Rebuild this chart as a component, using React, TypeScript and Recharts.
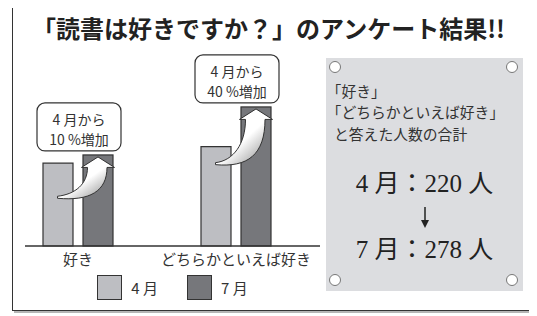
import React from 'react';
import { BarChart, Bar, XAxis, YAxis, Legend } from 'recharts';

// ---- data ----
const categories = ['好き', 'どちらかといえば好き'];
const seriesNames = ['4 月', '7 月'];
const aprilValues = [100, 120];
const julyValues = [110, 168];
const titleText = '「読書は好きですか？」のアンケート結果!!';
const panelLines = ['「好き」', '「どちらかといえば好き」', 'と答えた人数の合計'];
const unitLabel = '人';

const data = categories.map((name, i) => ({
  idx: i,
  name,
  apr: aprilValues[i],
  jul: julyValues[i],
}));
const aprTotal = aprilValues.reduce((a, b) => a + b, 0);
const julTotal = julyValues.reduce((a, b) => a + b, 0);

// ---- styles ----
const APR_FILL = '#bdbec2';
const JUL_FILL = '#76777b';
const STROKE = '#333';
const JP = "'Noto Sans CJK JP', 'Noto Sans', sans-serif";
const SERIF_JP = "'Liberation Serif', 'Noto Sans CJK JP', serif";

const JulShape = (props: any) => {
  const { x, y, width, height, payload, index } = props;
  const cx = x + width / 2;
  const pct = Math.round((payload.jul / payload.apr - 1) * 100);
  const tipY = y + 2;
  const hb = y + 12.5;
  const hh = 16.5;
  const sL = x + 4.5;
  const sR = x + 24;
  const tx = x - 25.5;
  const ty = y + 0.3 * height + 15;
  const dy = ty - hb;
  const d = `M ${cx} ${tipY} L ${cx + hh} ${hb} L ${sR} ${hb} C ${sR} ${hb + dy * 0.8} ${sR - 0.35 * (sR - tx)} ${ty + 4} ${tx} ${ty + 1} L ${tx} ${ty - 1} C ${tx + 0.6 * (sL - tx)} ${ty - 3} ${sL} ${hb + dy * 0.55} ${sL} ${hb} L ${cx - hh} ${hb} Z`;
  const boxW = 84;
  const boxH = 48;
  const bx = cx - 19 - boxW / 2;
  const by = y - 4 - boxH;
  const gid = `arrowGrad${index}`;
  return (
    <g>
      <defs>
        <linearGradient id={gid} x1="0.2" y1="0.2" x2="0.9" y2="0.95">
          <stop offset="0" stopColor="#ffffff" />
          <stop offset="0.45" stopColor="#ffffff" />
          <stop offset="1" stopColor="#8f8f8f" />
        </linearGradient>
      </defs>
      <rect x={x} y={y} width={width} height={height} fill={JUL_FILL} stroke={STROKE} strokeWidth={1.2} />
      <path d={d} fill={`url(#${gid})`} stroke={STROKE} strokeWidth={1} strokeLinejoin="round" />
      <rect x={bx} y={by} width={boxW} height={boxH} rx={8} ry={8} fill="#fff" stroke={STROKE} strokeWidth={1.2} />
      <text x={bx + boxW / 2} y={by + 21.8} textAnchor="middle" fontSize={14} fontFamily={JP} fill={STROKE}>
        {`${seriesNames[0]}から`}
      </text>
      <text x={bx + boxW / 2} y={by + 42.3} textAnchor="middle" fontSize={14} fontFamily={JP} fill={STROKE}>
        {`${pct} %増加`}
      </text>
    </g>
  );
};

const renderLegend = (props: any) => {
  const { payload } = props;
  return (
    <div
      style={{
        display: 'flex',
        justifyContent: 'center',
        alignItems: 'center',
        height: 26,
        gap: 29,
        fontFamily: JP,
        fontSize: 15,
        color: STROKE,
      }}
    >
      {(payload || []).map((p: any, i: number) => (
        <div key={i} style={{ display: 'flex', alignItems: 'center' }}>
          <span
            style={{
              display: 'inline-block',
              width: 25,
              height: 25,
              boxSizing: 'border-box',
              background: p.color,
              border: `1.5px solid ${STROKE}`,
              marginRight: 9,
            }}
          />
          <span>{p.value}</span>
        </div>
      ))}
    </div>
  );
};

const Hole = ({ left, top }: { left: number; top: number }) => (
  <div
    style={{
      position: 'absolute',
      left: left - 6,
      top: top - 6,
      width: 12,
      height: 12,
      boxSizing: 'border-box',
      borderRadius: '50%',
      background: '#fff',
      border: '1px solid #777',
    }}
  />
);

export default function App() {
  return (
    <div
      style={{
        position: 'relative',
        width: 537,
        height: 316,
        marginLeft: -8,
        marginTop: -8,
        background: '#fff',
        overflow: 'hidden',
      }}
    >
      <div
        style={{
          position: 'absolute',
          left: 0,
          top: 15,
          width: 537,
          textAlign: 'center',
          fontFamily: JP,
          fontWeight: 700,
          fontSize: 24,
          lineHeight: '26px',
          color: '#222',
          whiteSpace: 'nowrap',
        }}
      >
        {titleText}
      </div>

      <div style={{ position: 'absolute', left: 0, top: 0 }}>
        <BarChart
          width={330}
          height={316}
          data={data}
          margin={{ top: 97, right: 10, left: 25, bottom: 16 }}
          barGap={10}
        >
          <XAxis
            type="number"
            dataKey="idx"
            domain={[-53 / 158, 242 / 158]}
            ticks={[0, 1]}
            interval={0}
            tickFormatter={(v: number) => categories[v]}
            height={28}
            tickLine={false}
            axisLine={{ stroke: STROKE, strokeWidth: 1.5 }}
            tick={{ fill: STROKE, fontSize: 15, fontFamily: JP }}
          />
          <YAxis hide domain={[0, 180]} />
          <Legend verticalAlign="bottom" content={renderLegend} />
          <Bar
            dataKey="apr"
            name={seriesNames[0]}
            fill={APR_FILL}
            stroke={STROKE}
            strokeWidth={1.2}
            barSize={30}
            isAnimationActive={false}
          />
          <Bar
            dataKey="jul"
            name={seriesNames[1]}
            fill={JUL_FILL}
            stroke={STROKE}
            strokeWidth={1.2}
            barSize={30}
            shape={JulShape}
            isAnimationActive={false}
          />
        </BarChart>
      </div>

      <div
        style={{
          position: 'absolute',
          left: 326,
          top: 58,
          width: 197,
          height: 233,
          background: '#dcdde0',
        }}
      >
        <Hole left={9} top={9} />
        <Hole left={186} top={9} />
        <Hole left={9} top={222} />
        <Hole left={186} top={222} />
        <div
          style={{
            position: 'absolute',
            left: 8,
            top: 21.5,
            fontFamily: JP,
            fontSize: 14.8,
            lineHeight: '21.5px',
            color: STROKE,
            whiteSpace: 'nowrap',
          }}
        >
          {panelLines.map((t, i) => (
            <div key={i} style={{ textIndent: t.startsWith('「') ? '-0.5em' : 0 }}>
              {t}
            </div>
          ))}
        </div>
        <div
          style={{
            position: 'absolute',
            left: 0,
            top: 111,
            width: 197,
            textAlign: 'center',
            fontFamily: SERIF_JP,
            fontSize: 25,
            lineHeight: '30px',
            color: '#222',
            whiteSpace: 'nowrap',
          }}
        >
          {`${seriesNames[0]}：${aprTotal} ${unitLabel}`}
        </div>
        <svg
          style={{ position: 'absolute', left: 93, top: 149 }}
          width={12}
          height={22}
          viewBox="0 0 12 22"
        >
          <line x1={6} y1={0} x2={6} y2={15} stroke="#222" strokeWidth={1.5} />
          <path d="M 2 13 L 10 13 L 6 21 Z" fill="#222" />
        </svg>
        <div
          style={{
            position: 'absolute',
            left: 0,
            top: 177,
            width: 197,
            textAlign: 'center',
            fontFamily: SERIF_JP,
            fontSize: 25,
            lineHeight: '30px',
            color: '#222',
            whiteSpace: 'nowrap',
          }}
        >
          {`${seriesNames[1]}：${julTotal} ${unitLabel}`}
        </div>
      </div>

      <div
        style={{
          position: 'absolute',
          left: 12,
          top: 5,
          width: 521,
          height: 306,
          boxSizing: 'border-box',
          border: '1px solid #333',
          boxShadow: '2px 2px 0 #b5b5b5',
          pointerEvents: 'none',
        }}
      />
    </div>
  );
}
